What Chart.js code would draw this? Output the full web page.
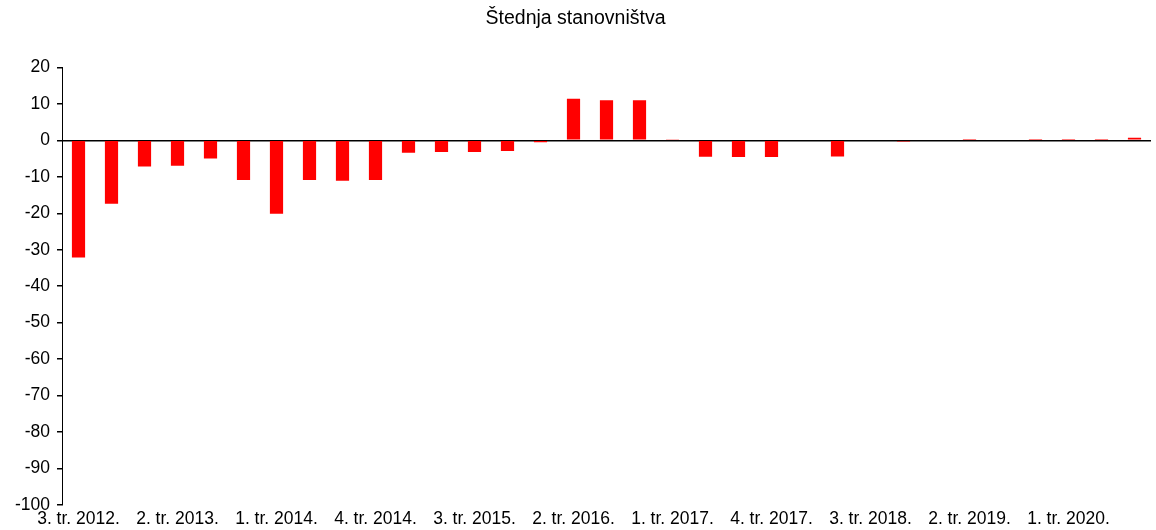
<!DOCTYPE html>
<html>
<head>
<meta charset="utf-8">
<script src="https://cdn.jsdelivr.net/npm/chart.js@4"></script>
<style>
  html, body { margin: 0; padding: 0; background: #fff; }
  #wrap { width: 1156px; height: 530px; }
</style>
</head>
<body>
<div id="wrap"><canvas id="myChart"></canvas></div>
<script>
// kvartali od 3. tr. 2012. do 3. tr. 2020.
const quarters = [
    '3. tr. 2012.', '4. tr. 2012.',
    '1. tr. 2013.', '2. tr. 2013.', '3. tr. 2013.', '4. tr. 2013.',
    '1. tr. 2014.', '2. tr. 2014.', '3. tr. 2014.', '4. tr. 2014.',
    '1. tr. 2015.', '2. tr. 2015.', '3. tr. 2015.', '4. tr. 2015.',
    '1. tr. 2016.', '2. tr. 2016.', '3. tr. 2016.', '4. tr. 2016.',
    '1. tr. 2017.', '2. tr. 2017.', '3. tr. 2017.', '4. tr. 2017.',
    '1. tr. 2018.', '2. tr. 2018.', '3. tr. 2018.', '4. tr. 2018.',
    '1. tr. 2019.', '2. tr. 2019.', '3. tr. 2019.', '4. tr. 2019.',
    '1. tr. 2020.', '2. tr. 2020.', '3. tr. 2020.'
];

const savings = [
    -32.1, -17.4,
    -7.2, -7.0, -5.0, -10.9,
    -20.1, -10.9, -11.1, -10.9,
    -3.4, -3.2, -3.2, -2.9,
    -0.5, 11.4, 11.0, 11.0,
    0.3, -4.5, -4.6, -4.6,
    0.2, -4.4, 0.2, -0.3,
    0.2, 0.1, 0.2, 0.1,
    0.1, 0.1, 0.7
];

const yMin = -100;
const yMax = 20;
const yStep = 10;

const ctx = document.getElementById('myChart').getContext('2d');
const font = { family: 'Liberation Sans, Arial, sans-serif', size: 17.5, weight: 'normal' };

new Chart(ctx, {
    type: 'bar',
    data: {
        labels: quarters,
        datasets: [{
            label: 'Štednja stanovništva',
            data: savings,
            backgroundColor: '#ff0000',
            borderWidth: 0,
            barPercentage: 0.4,
            categoryPercentage: 1.0
        }]
    },
    options: {
        responsive: true,
        maintainAspectRatio: false,
        animation: false,
        layout: { padding: { left: 0, right: 5, top: 0, bottom: 0 } },
        plugins: {
            legend: { display: false },
            tooltip: { enabled: false },
            title: {
                display: true,
                text: 'Štednja stanovništva',
                color: '#000',
                font: { family: font.family, size: 19.5, weight: 'normal' },
                padding: { top: 7, bottom: 37 }
            }
        },
        scales: {
            x: {
                grid: { display: false },
                border: { display: false },
                ticks: {
                    color: '#000',
                    font: font,
                    autoSkip: false,
                    maxRotation: 0,
                    padding: -4,
                    callback: function(value, index) {
                        return index % 3 === 0 ? quarters[index] : '';
                    }
                },
                afterFit: function(scale) { scale.height = 25; }
            },
            y: {
                min: yMin,
                max: yMax,
                ticks: {
                    stepSize: yStep,
                    color: '#000',
                    font: font,
                    padding: 7
                },
                grid: {
                    color: (c) => c.tick && c.tick.value === 0 ? '#000' : 'rgba(0,0,0,0)',
                    tickColor: '#000',
                    tickLength: 5,
                    lineWidth: 1.5
                },
                border: { display: true, color: '#000', width: 1 },
                afterFit: function(scale) { scale.width = 62; }
            }
        }
    }
});
</script>
</body>
</html>
